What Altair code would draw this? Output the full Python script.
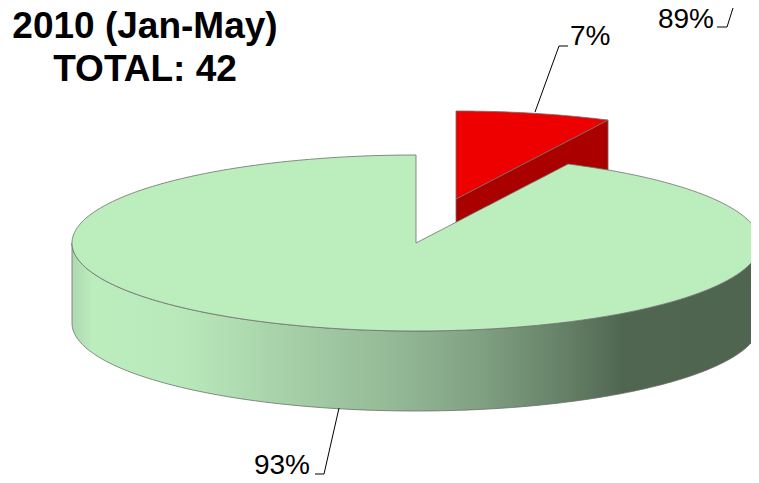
import numpy as np
import pandas as pd
import altair as alt

# Values
categories = ["Other", "Red"]
counts = [39, 3]
pct_labels = ["93%", "7%", "89%"]
title_lines = ["2010 (Jan-May)", "TOTAL: 42"]

# Pie projection (image pixels)
CX, CY, RX, RY, DEPTH = 416, 243, 344, 88, 80
DX, DY = 40, -44
sweep = np.radians(360 * counts[1] / sum(counts) * 1.02)


def top(x, cx=CX, cy=CY):
    return cy - RY * np.sqrt(np.clip(1 - ((x - cx) / RX) ** 2, 0, 1))


def bottom(x, cx=CX, cy=CY):
    return cy + RY * np.sqrt(np.clip(1 - ((x - cx) / RX) ** 2, 0, 1))


tip_x = RX * np.sin(sweep)
tip_y = -RY * np.cos(sweep)
angles = np.radians(np.linspace(-90, 90, 181))
xs = CX + RX * np.sin(angles)

# Big slice top face
left = xs[xs < CX]
gap = np.linspace(CX + 0.01, CX + tip_x, 30)
right = CX + RX * np.sin(np.linspace(sweep + 0.001, np.pi / 2, 90))
fx = np.concatenate([left, [CX], gap, right])
fy = np.concatenate([top(left), [CY - RY], CY + (gap - CX) * tip_y / tip_x, top(right)])
face = pd.DataFrame({"x": fx, "y": fy, "y2": bottom(fx)})

# Big slice wall
wall = pd.DataFrame({"x": xs, "y": bottom(xs), "y2": bottom(xs) + DEPTH})

# Exploded slice
rcx, rcy = CX + DX, CY + DY
rx_vals = rcx + RX * np.sin(np.linspace(0, sweep, 40))
line_y = rcy + (rx_vals - rcx) * tip_y / tip_x
red_face = pd.DataFrame({"x": rx_vals, "y": top(rx_vals, rcx, rcy), "y2": line_y})
red_wall = pd.DataFrame({"x": rx_vals, "y": line_y, "y2": line_y + DEPTH})

X = alt.X("x:Q", axis=None, scale=alt.Scale(domain=[8, 751], nice=False, zero=False))
Y = alt.Y("y:Q", axis=None, scale=alt.Scale(domain=[475, 8], nice=False, zero=False))
EDGE = dict(stroke="#6f6f6f", strokeWidth=0.8)


def area(df, fill):
    return alt.Chart(df).mark_area(color=fill, **EDGE).encode(x=X, y=Y, y2="y2:Q")


wall_fill = alt.Gradient(
    gradient="linear", x1=0, x2=1, y1=0, y2=0,
    stops=[
        alt.GradientStop(offset=0.0, color="#aed8b0"),
        alt.GradientStop(offset=0.03, color="#bbedbd"),
        alt.GradientStop(offset=0.16, color="#b9e9bb"),
        alt.GradientStop(offset=0.34, color="#a3cca5"),
        alt.GradientStop(offset=0.48, color="#92b794"),
        alt.GradientStop(offset=0.60, color="#7f9f81"),
        alt.GradientStop(offset=0.72, color="#647f66"),
        alt.GradientStop(offset=0.80, color="#506651"),
        alt.GradientStop(offset=1.0, color="#4f654f"),
    ],
)

leaders = pd.DataFrame({
    "x": [535, 559, 568, 339, 324, 315, 733, 727, 717],
    "y": [112, 46, 46, 408, 474, 474, 8, 27, 27],
    "k": [1, 1, 1, 0, 0, 0, 2, 2, 2],
    "o": [0, 1, 2, 0, 1, 2, 0, 1, 2],
})
leader_layer = alt.Chart(leaders).mark_line(color="#000000", strokeWidth=1).encode(
    x=X, y=Y, detail="k:N", order="o:Q"
)

pct = pd.DataFrame({"x": [310, 570, 714], "y": [474, 45, 28], "t": pct_labels, "a": ["right", "left", "right"]})
layers = []
for a, sub in pct.groupby("a"):
    layers.append(
        alt.Chart(sub).mark_text(font="Liberation Sans", fontSize=28, align=a, baseline="alphabetic", color="#000000")
        .encode(x=X, y=Y, text="t:N")
    )

title_df = pd.DataFrame({"x": [145, 145], "y": [38, 81], "t": title_lines})
title_layer = alt.Chart(title_df).mark_text(
    font="Liberation Sans", fontSize=37, fontWeight="bold", align="center", baseline="alphabetic", color="#000000"
).encode(x=X, y=Y, text="t:N")

chart = alt.layer(
    area(red_wall, "#aa0000"),
    area(red_face, "#ee0000"),
    area(wall, wall_fill),
    area(face, "#bbedbd"),
    leader_layer,
    *layers,
    title_layer,
).properties(width=743, height=467, padding=0, autosize=alt.AutoSizeParams(type="none")).configure_view(stroke=None)

chart.save("out.html", embed_options={"renderer": "svg", "actions": False})
